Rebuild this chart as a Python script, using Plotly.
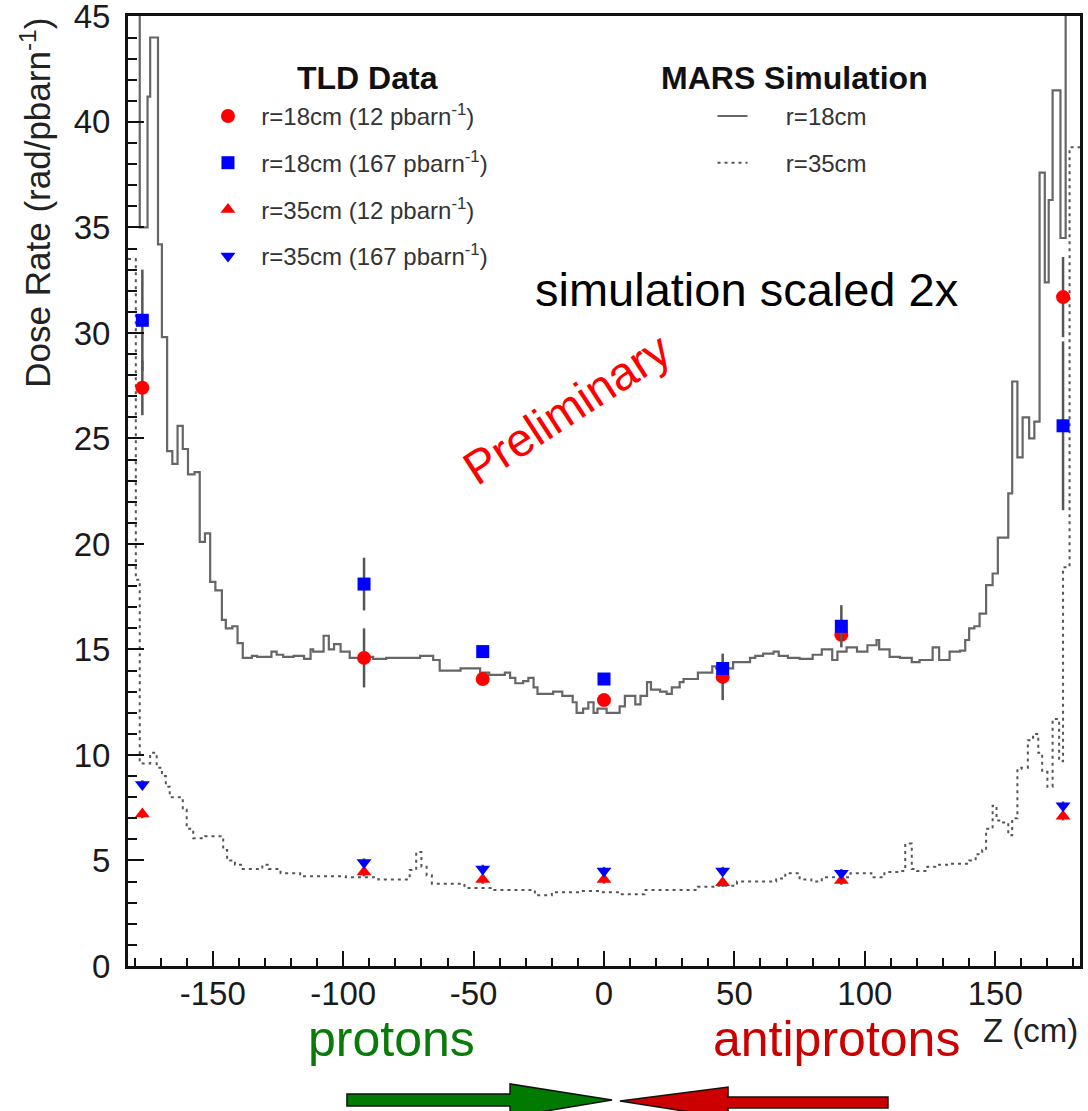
import plotly.graph_objects as go

# ---------------- TLD measurements ----------------
z_tld = [-177, -92, -46.5, 0, 45.5, 91, 176]

dose_r18_12 = [27.4, 14.6, 13.6, 12.6, 13.7, 15.7, 31.7]
err_r18_12 = [1.3, 1.4, 0.2, 0.2, 1.1, 0.3, 1.9]

dose_r18_167 = [30.6, 18.1, 14.9, 13.6, 14.1, 16.1, 25.6]
err_r18_167 = [2.4, 1.25, 0.2, 0.2, 0.3, 1.0, 4.0]

dose_r35_12 = [7.2, 4.45, 4.1, 4.1, 3.95, 4.05, 7.1]
err_r35_12 = [0.2, 0.2, 0.2, 0.2, 0.2, 0.2, 0.2]

dose_r35_167 = [8.6, 4.9, 4.6, 4.5, 4.5, 4.4, 7.6]
err_r35_167 = [0.2, 0.2, 0.2, 0.2, 0.2, 0.2, 0.2]

# ---------------- MARS simulation (step histograms, scaled 2x) ----------------
mars_r18_edges = [
    -182.5, -178, -175, -174, -171, -169.5, -167.5, -165.5, -163.5, -161.5,
    -159.5, -157, -155, -153, -151, -149, -146.5, -145, -142.5, -140.5,
    -138.5, -135, -133, -127.5, -125.5, -123, -119, -115, -112.5, -111.5,
    -107.5, -105.5, -103.5, -101, -97.5, -93.5, -88.5, -83.5, -70.5, -65.5,
    -63, -55, -47.5, -44, -38, -36, -34, -31, -29, -27,
    -25.5, -19.5, -16, -12, -10.5, -8, -6, -4, -2.5, 1,
    6, 8, 12, 14, 16.5, 18, 21.5, 24, 26, 29,
    30.5, 36, 41.5, 43, 49.5, 56, 58, 61, 65, 67,
    70.5, 75, 80, 83.5, 87.5, 89.5, 93, 97, 101, 104.5,
    105.5, 109.5, 113.5, 118, 121, 126, 128.5, 132.5, 136.5, 138.5,
    140, 142, 144, 146.5, 149, 151, 155, 156.5, 158.5, 160.5,
    163, 165, 167, 169, 170.5, 172, 175, 177, 182.5,
]
mars_r18_dose = [
    46.0, 35.0, 41.2, 44.0, 34.2, 29.8, 24.4, 23.8, 25.6, 24.5,
    23.3, 23.4, 20.1, 20.5, 18.2, 17.8, 16.4, 16.0, 16.1, 15.3,
    14.6, 14.7, 14.65, 14.9, 14.75, 14.65, 14.7, 14.55, 15.0, 14.9,
    15.65, 15.0, 15.25, 14.9, 14.6, 14.65, 14.55, 14.6, 14.7, 14.5,
    14.0, 14.1, 13.9, 13.8, 13.9, 13.65, 13.4, 13.5, 13.65, 13.2,
    12.9, 13.0, 12.8, 12.5, 12.0, 12.2, 12.5, 12.0, 12.2, 12.0,
    12.3, 12.8, 12.4, 12.8, 13.45, 13.1, 13.0, 12.9, 13.2, 13.45,
    13.6, 13.9, 14.2, 14.1, 14.4, 14.6, 14.7, 14.8, 14.9, 14.7,
    14.6, 14.55, 14.75, 15.0, 14.5, 14.9, 15.1, 14.9, 15.2, 15.45,
    15.0, 14.65, 14.6, 14.4, 14.5, 15.1, 14.5, 14.9, 14.95, 15.45,
    16.0, 16.1, 16.7, 18.05, 18.6, 20.3, 22.4, 27.7, 24.1, 26.0,
    25.0, 25.8, 37.6, 32.4, 36.3, 41.5, 34.5, 46.0,
]

mars_r35_edges = [
    -182.5, -179.5, -178, -174, -171.5, -169.5, -168, -166.5, -161.5, -160,
    -157.5, -153, -146, -144.5, -141.5, -138.5, -131, -128.5, -124, -116.5,
    -99, -86.5, -74.5, -72, -70, -68, -66, -53.5, -43.5, -26.5,
    -20, -9, -1.5, 6, 15.5, 36, 43.5, 51, 66, 69.5,
    75, 79.5, 83.5, 94.5, 102.5, 107.5, 113.5, 115.5, 118, 120,
    124, 127, 132.5, 140, 142.5, 145, 146.5, 149, 150.5, 152.5,
    155, 156.5, 158.5, 160, 162.5, 164.5, 166.5, 168, 170, 172,
    174.5, 176, 178.5, 182.5,
]
mars_r35_dose = [
    33.5, 18.3, 9.6, 10.1, 9.4, 9.0, 8.5, 8.0, 7.4, 6.5,
    6.05, 6.15, 5.5, 5.0, 4.8, 4.6, 4.8, 4.6, 4.4, 4.25,
    4.2, 4.1, 4.55, 5.4, 4.7, 4.3, 3.9, 3.7, 3.6, 3.35,
    3.5, 3.55, 3.5, 3.4, 3.6, 3.75, 3.8, 4.0, 4.15, 4.4,
    4.1, 4.0, 4.2, 4.4, 4.2, 4.45, 4.5, 5.8, 4.6, 4.5,
    4.7, 4.8, 4.85, 5.0, 5.3, 5.5, 6.5, 7.6, 6.9, 6.8,
    6.2, 7.0, 9.35, 9.4, 10.7, 11.0, 10.1, 9.2, 8.5, 11.7,
    9.7, 18.9, 38.8,
]

assert len(mars_r18_edges) == len(mars_r18_dose) + 1
assert len(mars_r35_edges) == len(mars_r35_dose) + 1

x_ticks = [-150, -100, -50, 0, 50, 100, 150]
x_ticktext = ["-150", "-100", "-50", "0", "50", "100", "150"]
y_ticks = [0, 5, 10, 15, 20, 25, 30, 35, 40, 45]

FONT = "Liberation Sans, Arial, Helvetica, sans-serif"
ERR_COLOR = "#555555"
NB = "\u00a0"  # non-breaking space, keeps legend text clear of its symbol

fig = go.Figure()

# simulation histograms (drawn first so the data points sit on top)
fig.add_trace(go.Scatter(
    x=mars_r18_edges, y=mars_r18_dose + [mars_r18_dose[-1]],
    mode="lines", line=dict(shape="hv", color="#666666", width=2.2),
    name=NB * 5 + "r=18cm", legend="legend2", legendgroup="m18",
))
fig.add_trace(go.Scatter(
    x=mars_r35_edges, y=mars_r35_dose + [mars_r35_dose[-1]],
    mode="lines", line=dict(shape="hv", color="#555555", width=2, dash="3px,4px"),
    name=NB * 5 + "r=35cm", legend="legend2", legendgroup="m35",
))


def tld_trace(y, err, name, symbol, color, size, group, rank):
    return go.Scatter(
        x=z_tld, y=y, mode="markers", name=NB * 2 + name,
        marker=dict(symbol=symbol, color=color, size=size, line=dict(width=0)),
        error_y=dict(type="data", array=err, color=ERR_COLOR, thickness=2.5, width=0),
        legend="legend", legendgroup=group, legendrank=rank,
    )


fig.add_trace(tld_trace(dose_r35_12, err_r35_12, "r=35cm (12 pbarn<sup>-1</sup>)",
                        "triangle-up", "#ff0000", 13, "t3", 3))
fig.add_trace(tld_trace(dose_r35_167, err_r35_167, "r=35cm (167 pbarn<sup>-1</sup>)",
                        "triangle-down", "#0000ff", 13, "t4", 4))
fig.add_trace(tld_trace(dose_r18_12, err_r18_12, "r=18cm (12 pbarn<sup>-1</sup>)",
                        "circle", "#ff0000", 14, "t1", 1))
fig.add_trace(tld_trace(dose_r18_167, err_r18_167, "r=18cm (167 pbarn<sup>-1</sup>)",
                        "square", "#0000ff", 13, "t2", 2))

axis_common = dict(
    showgrid=False, zeroline=False, showline=True, linecolor="#111111",
    linewidth=3, mirror=True, ticks="inside", tickcolor="#111111",
    tickfont=dict(family=FONT, size=33, color="#1a1a1a"),
    ticklabeloverflow="allow", automargin=False,
)

fig.update_layout(
    width=1088, height=1111,
    margin=dict(l=128, r=8, t=16, b=145, autoexpand=False),
    paper_bgcolor="white", plot_bgcolor="white",
    font=dict(family=FONT, color="#222222"),
    xaxis=dict(
        range=[-182.5, 182.5], tickmode="array", tickvals=x_ticks, ticktext=x_ticktext,
        ticklen=15, tickwidth=2, ticklabelstandoff=-4,
        minor=dict(dtick=10, tick0=0, ticks="inside", ticklen=8, tickwidth=2,
                   tickcolor="#111111"),
        **axis_common,
    ),
    yaxis=dict(
        range=[0, 45.02], tickmode="array", tickvals=y_ticks,
        ticklen=16, tickwidth=2, ticklabelstandoff=8,
        minor=dict(dtick=1, tick0=0, ticks="inside", ticklen=9, tickwidth=2,
                   tickcolor="#111111"),
        **axis_common,
    ),
    legend=dict(
        x=0.084, y=0.918, xanchor="left", yanchor="top",
        bgcolor="rgba(0,0,0,0)", font=dict(family=FONT, size=24, color="#333333"),
        tracegroupgap=12.5, itemwidth=30,
    ),
    legend2=dict(
        x=0.614, y=0.918, xanchor="left", yanchor="top",
        bgcolor="rgba(0,0,0,0)", font=dict(family=FONT, size=24, color="#333333"),
        tracegroupgap=12.5, itemwidth=30,
    ),
)

annotations = [
    dict(text="<b>TLD Data</b>", x=0.2521, y=0.9347, xref="paper", yref="paper",
         xanchor="center", yanchor="middle", showarrow=False,
         font=dict(family=FONT, size=32, color="#111111")),
    dict(text="<b>MARS Simulation</b>", x=0.7006, y=0.9347, xref="paper", yref="paper",
         xanchor="center", yanchor="middle", showarrow=False,
         font=dict(family=FONT, size=32, color="#111111")),
    dict(text="Dose Rate (rad/pbarn<sup>-1</sup>)", textangle=-90,
         x=-0.097, y=1.0, xref="paper", yref="paper", xanchor="center", yanchor="top",
         showarrow=False, font=dict(family=FONT, size=35, color="#222222")),
    dict(text="Z (cm)", x=1.0, y=-0.068, xref="paper", yref="paper",
         xanchor="right", yanchor="middle", showarrow=False,
         font=dict(family=FONT, size=33, color="#222222")),
    dict(text="simulation scaled 2x", x=0.65, y=0.712, xref="paper", yref="paper",
         xanchor="center", yanchor="middle", showarrow=False,
         font=dict(family=FONT, size=47, color="#000000")),
    dict(text="Preliminary", textangle=-33, x=0.461, y=0.587, xref="paper", yref="paper",
         xanchor="center", yanchor="middle", showarrow=False,
         font=dict(family=FONT, size=47, color="#ff0000")),
    dict(text="protons", x=0.277, y=-0.077, xref="paper", yref="paper",
         xanchor="center", yanchor="middle", showarrow=False,
         font=dict(family=FONT, size=50, color="#0a7a0a")),
    dict(text="antiprotons", x=0.744, y=-0.077, xref="paper", yref="paper",
         xanchor="center", yanchor="middle", showarrow=False,
         font=dict(family=FONT, size=50, color="#cc0000")),
]
fig.update_layout(annotations=annotations)


def px_to_paper(px, py):
    return (px - 128) / 952, (966 - py) / 950


def arrow_path(points):
    pts = [px_to_paper(*p) for p in points]
    return "M " + " L ".join(f"{x:.4f},{y:.4f}" for x, y in pts) + " Z"


# beam direction arrows below the axis
green_arrow = [(347, 1094), (510, 1094), (510, 1084), (612, 1100),
               (510, 1117), (510, 1106), (347, 1106)]
red_arrow = [(888, 1097), (728, 1097), (728, 1087), (620, 1101),
             (728, 1118), (728, 1108), (888, 1108)]
fig.update_layout(shapes=[
    dict(type="path", path=arrow_path(green_arrow), xref="paper", yref="paper",
         fillcolor="#007a00", line=dict(color="#111111", width=1.5)),
    dict(type="path", path=arrow_path(red_arrow), xref="paper", yref="paper",
         fillcolor="#cc0000", line=dict(color="#111111", width=1.5)),
])

fig.write_html("out.html")
